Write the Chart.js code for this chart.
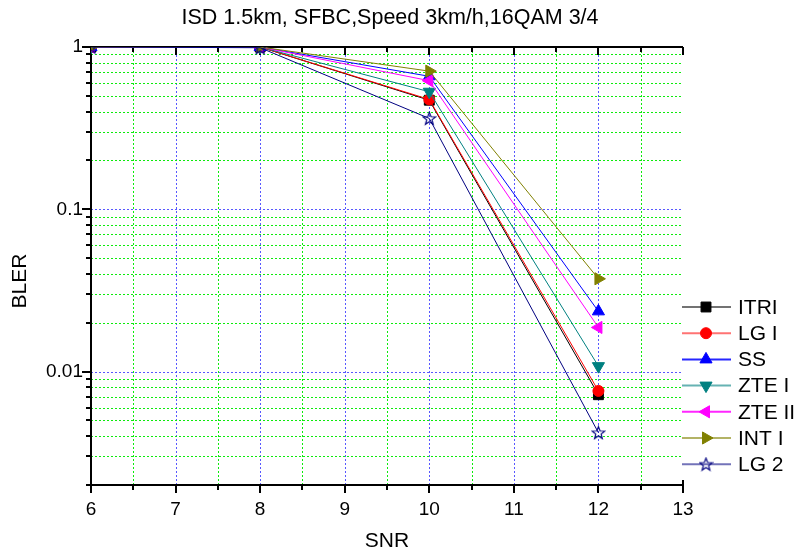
<!DOCTYPE html>
<html><head><meta charset="utf-8">
<script src="https://cdn.jsdelivr.net/npm/chart.js@4.4.1/dist/chart.umd.min.js"></script>
<style>html,body{margin:0;padding:0;background:#fff}#wrap{width:797px;height:553px}</style>
</head><body><div id="wrap"><canvas id="c" width="797" height="553"></canvas></div>
<script>
// ---- data ----
const snr = [6, 8, 10, 12];
const seriesNames = ['ITRI', 'LG I', 'SS', 'ZTE I', 'ZTE II', 'INT I', 'LG 2'];
const itri  = [1, 1, 0.47, 0.0072];
const lg1   = [1, 1, 0.475, 0.0076];
const ss    = [1, 1, 0.66, 0.0235];
const zte1  = [1, 1, 0.53, 0.0108];
const zte2  = [1, 1, 0.62, 0.0187];
const int1  = [1, 1, 0.71, 0.0373];
const lg2   = [1, 0.99, 0.363, 0.0042];
const xTickValues = [6, 7, 8, 9, 10, 11, 12, 13];
const yTickValues = [1, 0.1, 0.01];
const yTickLabels = ['1', '0.1', '0.01'];
const titleText = 'ISD 1.5km, SFBC,Speed 3km/h,16QAM 3/4';
const xTitle = 'SNR';
const yTitle = 'BLER';

// ---- styles ----
function starImage(color){
  const c = document.createElement('canvas'); c.width = 15; c.height = 15;
  const g = c.getContext('2d');
  g.strokeStyle = color; g.lineWidth = 1.2; g.beginPath();
  for (let i = 0; i < 10; i++) {
    const r = i % 2 ? 2.8 : 6.6;
    const a = -Math.PI/2 + i*Math.PI/5;
    const x = 7.5 + r*Math.cos(a), y = 8 + r*Math.sin(a);
    i ? g.lineTo(x, y) : g.moveTo(x, y);
  }
  g.closePath(); g.stroke();
  return c;
}
const styles = [
  {color:'#000000', legend:'rgba(0,0,0,0.55)', ps:'rect', rot:0, r:7},
  {color:'#ff0000', legend:'rgba(255,0,0,0.55)', ps:'circle', rot:0, r:5.5},
  {color:'#0000ff', legend:'rgba(0,0,255,0.85)', ps:'triangle', rot:0, r:7},
  {color:'#008080', legend:'rgba(0,128,128,0.6)', ps:'triangle', rot:180, r:7},
  {color:'#ff00ff', legend:'rgba(255,0,255,0.85)', ps:'triangle', rot:270, r:7},
  {color:'#808000', legend:'rgba(128,128,0,0.6)', ps:'triangle', rot:90, r:7},
  {color:'#000080', legend:'rgba(0,0,128,0.55)', ps:starImage('#000080'), rot:0, r:7}
];
const values = [itri, lg1, ss, zte1, zte2, int1, lg2];

const datasets = values.map((v, i) => ({
  label: seriesNames[i],
  data: snr.map((x, j) => ({x, y: v[j]})),
  borderColor: styles[i].color,
  backgroundColor: styles[i].color,
  borderWidth: 1,
  pointStyle: styles[i].ps,
  pointRotation: styles[i].rot,
  pointRadius: styles[i].r,
  pointBorderWidth: 1,
  tension: 0,
  clip: 0,
  order: -i
}));

const minorY = [];
[0.001, 0.01, 0.1].forEach(d => { for (let k = 1; k <= 9; k++) { const v = +(k*d).toPrecision(3); if (v >= 0.002 && v <= 1) minorY.push(v); } });
minorY.push(1);
const isMajorY = v => yTickValues.some(m => Math.abs(m - v) < 1e-9);

const FONT = '"Liberation Sans", Arial, sans-serif';
const BLUE_GRID = 'rgba(70,70,255,0.9)';
const GREEN_GRID = 'rgba(0,235,0,0.95)';

const framePlugin = {
  id: 'frame',
  beforeDatasetsDraw(chart) {
    const {ctx, chartArea: a, scales} = chart;
    ctx.save();
    ctx.lineWidth = 1;
    ctx.setLineDash([2, 2]);
    for (let v = 6.5; v < 13; v += 0.5) {
      const px = Math.round(scales.x.getPixelForValue(v)) + 0.5;
      ctx.strokeStyle = Number.isInteger(v) ? BLUE_GRID : GREEN_GRID;
      ctx.beginPath(); ctx.moveTo(px, a.top); ctx.lineTo(px, a.bottom); ctx.stroke();
    }
    minorY.forEach(v => {
      if (v >= 1 || v <= 0.002) return;
      const py = Math.round(scales.y.getPixelForValue(v)) + 0.5;
      ctx.strokeStyle = isMajorY(v) ? BLUE_GRID : GREEN_GRID;
      ctx.beginPath(); ctx.moveTo(a.left, py); ctx.lineTo(a.right, py); ctx.stroke();
    });
    ctx.setLineDash([]);
    ctx.strokeStyle = '#000'; ctx.lineWidth = 2;
    ctx.beginPath();
    ctx.moveTo(a.left, a.top); ctx.lineTo(a.right, a.top);
    ctx.moveTo(a.left, a.top - 1); ctx.lineTo(a.left, a.bottom + 1);
    ctx.moveTo(a.left - 2, a.bottom); ctx.lineTo(a.right, a.bottom);
    ctx.stroke();
    ctx.beginPath();
    for (let v = 6; v <= 13.001; v += 0.5) {
      const px = Math.round(scales.x.getPixelForValue(v));
      const major = Math.abs(v - Math.round(v)) < 1e-6;
      ctx.moveTo(px, a.bottom); ctx.lineTo(px, a.bottom + (major ? 8 : 5));
      ctx.moveTo(px, a.top); ctx.lineTo(px, a.top + (major ? 8 : 5));
    }
    ctx.moveTo(a.right, a.bottom); ctx.lineTo(a.right, a.bottom - 5);
    minorY.forEach(v => {
      const py = Math.round(scales.y.getPixelForValue(v));
      ctx.moveTo(a.left, py); ctx.lineTo(a.left - (isMajorY(v) ? 9 : 5), py);
    });
    ctx.stroke();
    ctx.restore();
  },
  afterDraw(chart) {
    const {ctx} = chart;
    ctx.save();
    ctx.fillStyle = '#000';
    ctx.textAlign = 'center'; ctx.textBaseline = 'middle';
    ctx.font = '21.5px ' + FONT;
    ctx.fillText(titleText, 390, 18);
    ctx.font = '21px ' + FONT;
    ctx.fillText(xTitle, 387, 541);
    ctx.save();
    ctx.translate(20, 281); ctx.rotate(-Math.PI/2);
    ctx.fillText(yTitle, 0, 0);
    ctx.restore();
    const H = Chart.helpers;
    chart.data.datasets.forEach((ds, i) => {
      const y = 307 + i * 26.2;
      ctx.strokeStyle = styles[i].legend; ctx.lineWidth = 2;
      ctx.beginPath(); ctx.moveTo(682, y); ctx.lineTo(731, y); ctx.stroke();
      ctx.fillStyle = styles[i].color; ctx.strokeStyle = styles[i].color; ctx.lineWidth = 1;
      H.drawPoint(ctx, {pointStyle: styles[i].ps, rotation: styles[i].rot, radius: styles[i].r, borderWidth: 1}, 706, y);
      ctx.fillStyle = '#000';
      ctx.font = '21px ' + FONT; ctx.textAlign = 'left'; ctx.textBaseline = 'middle';
      ctx.fillText(ds.label, 738, y + 1);
    });
    ctx.restore();
  }
};

new Chart(document.getElementById('c'), {
  type: 'line',
  data: {datasets},
  options: {
    responsive: false,
    devicePixelRatio: 1,
    animation: false,
    layout: {padding: {left: 0, top: 47, right: 114, bottom: 0}},
    plugins: {legend: {display: false}, title: {display: false}, tooltip: {enabled: false}},
    scales: {
      x: {
        type: 'linear', min: 6, max: 13,
        afterFit(s) { s.height = 68; },
        afterBuildTicks(s) { s.ticks = xTickValues.map(v => ({value: v})); },
        ticks: {
          autoSkip: false, maxRotation: 0, padding: 13, color: '#000',
          font: {family: FONT, size: 19},
          callback: v => String(v)
        },
        grid: {display: true, drawOnChartArea: false, drawTicks: false},
        border: {display: false}
      },
      y: {
        type: 'logarithmic', min: 0.002, max: 1,
        afterFit(s) { s.width = 91; },
        afterBuildTicks(s) { s.ticks = yTickValues.map(v => ({value: v})); },
        ticks: {
          autoSkip: false, padding: 8, color: '#000',
          font: {family: FONT, size: 19},
          callback: v => { const k = yTickValues.findIndex(m => Math.abs(m - v) < 1e-9); return k >= 0 ? yTickLabels[k] : ''; }
        },
        grid: {display: true, drawOnChartArea: false, drawTicks: false},
        border: {display: false}
      }
    }
  },
  plugins: [framePlugin]
});
</script>
</body></html>
